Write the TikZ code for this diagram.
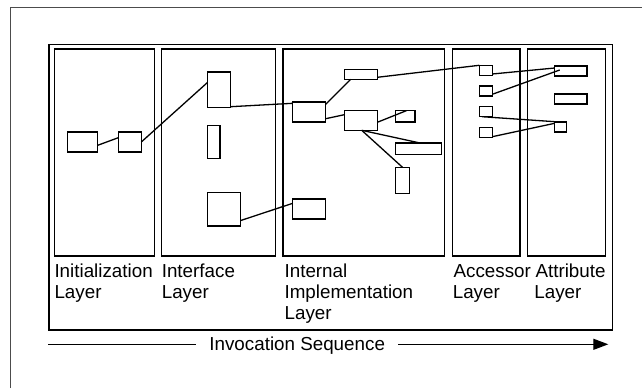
\documentclass[tikz,border=0pt]{standalone}
\usepackage{fontspec}
\setmainfont{Liberation Sans}
\usetikzlibrary{arrows.meta}
\begin{document}
\begin{tikzpicture}[x=1pt,y=-1pt,
  box/.style n args={2}{draw, line width=1.35pt, inner sep=0pt, outer sep=0pt, minimum width=#1pt, minimum height=#2pt},
  panel/.style n args={2}{draw, line width=1.4pt, inner sep=0pt, outer sep=0pt, minimum width=#1pt, minimum height=#2pt},
  conn/.style={line width=1.3pt},
  lbl/.style={anchor=base west, inner sep=0pt, outer sep=0pt, font=\fontsize{18.8}{21}\selectfont},
  frameline/.style={draw=black!70, line width=1.1pt}]
\useasboundingbox (0,0) rectangle (642,388);
% outer frame (partial)
\coordinate (fBL) at (10.7,388);
\coordinate (fTL) at (10.7,7.3);
\coordinate (fTR) at (642,7.3);
\draw[frameline] (fBL) -- (fTL) -- (fTR);
% big box and panels
\node[panel={563.3}{285.5}, line width=1.5pt] (big) at (330.65,187.25) {};
\node[panel={99.8}{207}] (p1) at (104.4,152.5) {};
\node[panel={114}{207}] (p2) at (218.7,152.5) {};
\node[panel={161.5}{207}] (p3) at (363.75,152.5) {};
\node[panel={67.7}{207}] (p4) at (486.15,152.5) {};
\node[panel={78.4}{207}] (p5) at (566.5,152.5) {};
% initialization layer
\node[box={30.4}{20}] (iA) at (82.5,142) {};
\node[box={23}{20}] (iB) at (129.8,142) {};
% interface layer
\node[box={23.4}{35.3}] (f1) at (219,89.65) {};
\node[box={12.7}{33.4}] (f2) at (213.65,142) {};
\node[box={33}{33.7}] (f3) at (223.8,209.15) {};
% internal implementation layer
\node[box={33}{10}] (nP) at (360.8,74.3) {};
\node[box={33}{20}] (nQ) at (309.2,112) {};
\node[box={33}{19.6}] (nR) at (360.8,120.5) {};
\node[box={19.7}{11.3}] (nS) at (405.15,116.35) {};
\node[box={46}{11.7}] (nT) at (418.3,148.85) {};
\node[box={14.4}{26.4}] (nU) at (402.5,180.5) {};
\node[box={33}{20}] (nV) at (309.2,209) {};
% accessor layer
\node[box={13}{10}] (a1) at (485.8,70.3) {};
\node[box={13}{10}] (a2) at (485.8,91) {};
\node[box={13}{10}] (a3) at (485.8,111.7) {};
\node[box={13}{10}] (a4) at (485.8,132.3) {};
% attribute layer
\node[box={32.3}{10}] (b1) at (570.85,71) {};
\node[box={32.3}{10}] (b2) at (570.85,99) {};
\node[box={12}{10}] (b3) at (560.7,127) {};
% connectors
\draw[conn] ([yshift=-3.3pt]iA.east) -- ([yshift=4.3pt]iB.west);
\draw[conn] (iB.east) -- ([yshift=7pt]f1.west);
\draw[conn] ([yshift=0.6pt]f1.south east) -- ([yshift=8.7pt]nQ.west);
\draw[conn] ([yshift=-11.5pt]f3.east) -- ([yshift=5.7pt]nV.west);
\draw[conn] ([yshift=-2.3pt]nQ.north east) -- ([xshift=6.4pt]nP.south west);
\draw[conn] ([yshift=-6.7pt]nQ.east) -- ([yshift=5.8pt]nR.west);
\draw[conn] ([yshift=-1.8pt]nR.east) -- ([xshift=11pt]nS.north west);
\draw[conn] ([xshift=0.9pt]nR.south) -- ([xshift=24.7pt]nT.north west);
\draw[conn] ([xshift=0.9pt]nR.south) -- (nU.north);
\draw[conn] ([yshift=-3pt]nP.east) -- (a1.north west);
\draw[conn] ([yshift=1.3pt]a1.south east) -- ([yshift=3pt]b1.west);
\draw[conn] ([yshift=1.7pt]a2.south east) -- ([xshift=5pt,yshift=1pt]b1.west);
\draw[conn] ([xshift=2.7pt]a3.south west) -- ([xshift=4.6pt]b3.north west);
\draw[conn] ([yshift=0.6pt]a4.south east) -- ([yshift=-1.3pt]b3.north west);
% labels
\node[lbl] (l1a) at (54.5,277.3) {Initialization};
\node[lbl] (l1b) at (54.5,298.3) {Layer};
\node[lbl] (l2a) at (161.8,277.3) {Interface};
\node[lbl] (l2b) at (161.8,298.3) {Layer};
\node[lbl] (l3a) at (284.6,277) {Internal};
\node[lbl] (l3b) at (284.6,298) {Implementation};
\node[lbl] (l3c) at (284.6,319) {Layer};
\node[lbl] (l4a) at (453.6,277.3) {Accessor};
\node[lbl] (l4b) at (452.8,298.3) {Layer};
\node[lbl] (l5a) at (535.5,277.3) {Attribute};
\node[lbl] (l5b) at (534.4,298.3) {Layer};
% invocation sequence arrow
\node[anchor=base, inner ysep=0pt, inner xsep=13pt, outer sep=0pt, font=\fontsize{18.8}{21}\selectfont] (seq) at (297.2,350) {Invocation Sequence};
\coordinate (sL) at (48.3,344.3);
\coordinate (sR) at (608.3,344.3);
\draw[conn] (sL) -- (sL -| seq.west);
\draw[conn, -{Triangle[length=15pt,width=11pt]}] (sR -| seq.east) -- (sR);
\end{tikzpicture}
\end{document}
